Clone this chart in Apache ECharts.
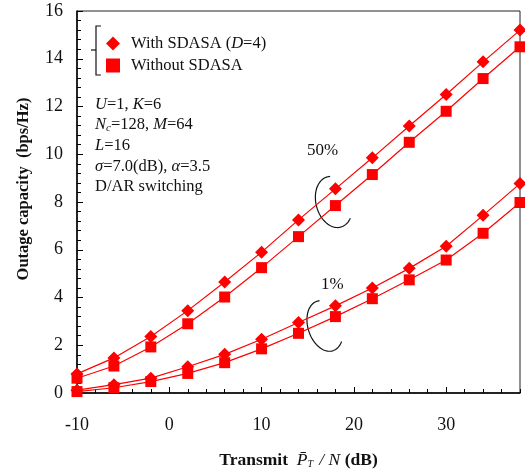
<!DOCTYPE html>
<html lang="en">
  <head>
    <meta charset="UTF-8" />
    <title>Outage capacity vs transmit power</title>
    <script src="https://cdn.jsdelivr.net/npm/echarts@6/dist/echarts.min.js"></script>
  </head>
  <body style="margin:0">
    <div id="main" style="width: 525px; height: 474px"></div>
    <script type="text/javascript">
      // Transmit P/N (dB)
      const snr = [-10, -6, -2, 2, 6, 10, 14, 18, 22, 26, 30, 34, 38];
      // 50% outage capacity
      const with50 = [0.8, 1.47, 2.37, 3.45, 4.65, 5.9, 7.25, 8.55, 9.85, 11.18, 12.5, 13.87, 15.2];
      const without50 = [0.62, 1.13, 1.93, 2.9, 4.02, 5.25, 6.55, 7.85, 9.15, 10.5, 11.8, 13.17, 14.5];
      // 1% outage capacity
      const with1 = [0.12, 0.35, 0.62, 1.1, 1.62, 2.25, 2.95, 3.65, 4.4, 5.22, 6.15, 7.44, 8.77];
      const without1 = [0.06, 0.22, 0.48, 0.82, 1.27, 1.85, 2.5, 3.2, 3.95, 4.74, 5.57, 6.69, 7.98];

      const nameWith = "With SDASA (D=4)";
      const nameWithout = "Without SDASA";
      const serif = "Liberation Serif";

      let myChart = echarts.init(document.getElementById("main"));

      function pair(ys) {
        return snr.map((x, i) => [x, ys[i]]);
      }

      function line(name, ys, symbol, size) {
        return {
          name: name,
          type: "line",
          xAxisIndex: 0,
          data: pair(ys),
          symbol: symbol,
          symbolSize: size,
          color: "#ff0000",
          lineStyle: { color: "#ff0000", width: 1.2 },
          itemStyle: { color: "#ff0000" },
          animation: false,
        };
      }

      // open ellipse outline used to group the two curves (decoration only)
      function loop(cx, cy, a, b, deg, t0, t1) {
        const r = (deg * Math.PI) / 180;
        const u = [Math.cos(r), Math.sin(r)];
        const v = [-Math.sin(r), Math.cos(r)];
        const pts = [];
        for (let k = 0; k <= 60; k++) {
          const t = t0 + ((t1 - t0) * k) / 60;
          const p = a * Math.cos(t);
          const q = b * Math.sin(t);
          pts.push([cx + p * u[0] + q * v[0], cy + p * u[1] + q * v[1]]);
        }
        return {
          type: "polyline",
          shape: { points: pts },
          style: { stroke: "#111", lineWidth: 1.2, fill: null },
        };
      }

      let options = {
        textStyle: { fontFamily: serif },
        grid: {
          left: 77,
          right: 5,
          top: 11,
          bottom: 77,
          show: true,
          borderColor: "#222",
          borderWidth: 1,
        },
        legend: {
          left: 101,
          top: 30,
          orient: "vertical",
          itemGap: 5,
          itemWidth: 14,
          itemHeight: 14,
          data: [
            { name: nameWith, icon: "diamond" },
            { name: nameWithout, icon: "rect" },
          ],
          formatter: (n) => (n === nameWith ? "With SDASA ({i|D}=4)" : n),
          textStyle: {
            fontFamily: serif,
            fontSize: 16.5,
            color: "#111",
            padding: [0, 0, 0, 6],
            rich: { i: { fontFamily: serif, fontSize: 16.5, fontStyle: "italic", color: "#111" } },
          },
        },
        xAxis: [
          {
            type: "value",
            min: -10,
            max: 38,
            interval: 10,
            axisLine: { onZero: false, lineStyle: { color: "#000", width: 1.5 } },
            axisTick: { inside: true, length: 6, lineStyle: { color: "#000" } },
            splitLine: { show: false },
            axisLabel: {
              showMaxLabel: false,
              margin: 23,
              fontSize: 18,
              color: "#111",
              fontFamily: serif,
            },
            name: "{b|Transmit  }{i|P\u0304}{s|T}{i| / N }{b|(dB)}",
            nameLocation: "middle",
            nameGap: 58,
            nameTextStyle: {
              rich: {
                b: { fontFamily: serif, fontSize: 17.5, fontWeight: "bold", color: "#111" },
                i: { fontFamily: serif, fontSize: 17.5, fontStyle: "italic", color: "#111" },
                s: { fontFamily: serif, fontSize: 10, fontStyle: "italic", color: "#111", padding: [8, 2, 0, 0] },
              },
            },
          },
          {
            type: "value",
            min: -10,
            max: 38,
            interval: 2,
            position: "bottom",
            axisLine: { show: false },
            axisTick: { inside: true, length: 4, lineStyle: { color: "#000" } },
            axisLabel: { show: false },
            splitLine: { show: false },
          },
        ],
        yAxis: {
          type: "value",
          min: 0,
          max: 16,
          interval: 2,
          axisLine: { show: true, onZero: false, lineStyle: { color: "#000", width: 1.5 } },
          axisTick: { show: true, inside: true, length: 6, lineStyle: { color: "#000" } },
          minorTick: { show: true, splitNumber: 5, length: 4, lineStyle: { color: "#000" } },
          splitLine: { show: false },
          axisLabel: { margin: 14, fontSize: 18, color: "#111", fontFamily: serif },
        },
        graphic: [
          // y axis title
          {
            type: "text",
            x: 24,
            y: 189,
            rotation: Math.PI / 2,
            style: {
              text: "Outage capacity  (bps/Hz)",
              font: "bold 16.5px " + serif,
              fill: "#111",
              align: "center",
              verticalAlign: "middle",
            },
          },
          // legend bracket
          {
            type: "polyline",
            shape: { points: [[101, 26], [96, 26], [96, 75], [101, 75]] },
            style: { stroke: "#111", lineWidth: 1.2, fill: null },
          },
          {
            type: "line",
            shape: { x1: 91, y1: 50, x2: 96, y2: 50 },
            style: { stroke: "#111", lineWidth: 1.2 },
          },
          // parameter block
          {
            type: "text",
            left: 95,
            top: 94,
            style: {
              text: [
                "{i|U}=1, {i|K}=6",
                "{i|N}{s|c}=128, {i|M}=64",
                "{i|L}=16",
                "{i|σ}=7.0(dB), {i|α}=3.5",
                "D/AR switching",
              ].join("\n"),
              font: "16.5px " + serif,
              fill: "#111",
              lineHeight: 20.7,
              rich: {
                i: { fontStyle: "italic", fontFamily: serif, fontSize: 16.5, fill: "#111", lineHeight: 20.7 },
                s: { fontStyle: "italic", fontFamily: serif, fontSize: 11, fill: "#111", padding: [7, 0, 0, 0], lineHeight: 20.7 },
              },
            },
          },
          // 50% label and loop
          {
            type: "text",
            left: 307,
            top: 142,
            style: { text: "50%", font: "17px " + serif, fill: "#111" },
          },
          loop(334, 202, 26, 18, 75, 3.3, -0.7),
          // 1% label and loop
          {
            type: "text",
            left: 321,
            top: 276,
            style: { text: "1%", font: "17px " + serif, fill: "#111" },
          },
          loop(325, 326, 26, 17, 72, 3.3, -0.7),
        ],
        series: [
          line(nameWith, with50, "diamond", 13),
          line(nameWithout, without50, "rect", 11),
          line(nameWith, with1, "diamond", 13),
          line(nameWithout, without1, "rect", 11),
        ],
      };

      myChart.setOption(options);
    </script>
  </body>
</html>
